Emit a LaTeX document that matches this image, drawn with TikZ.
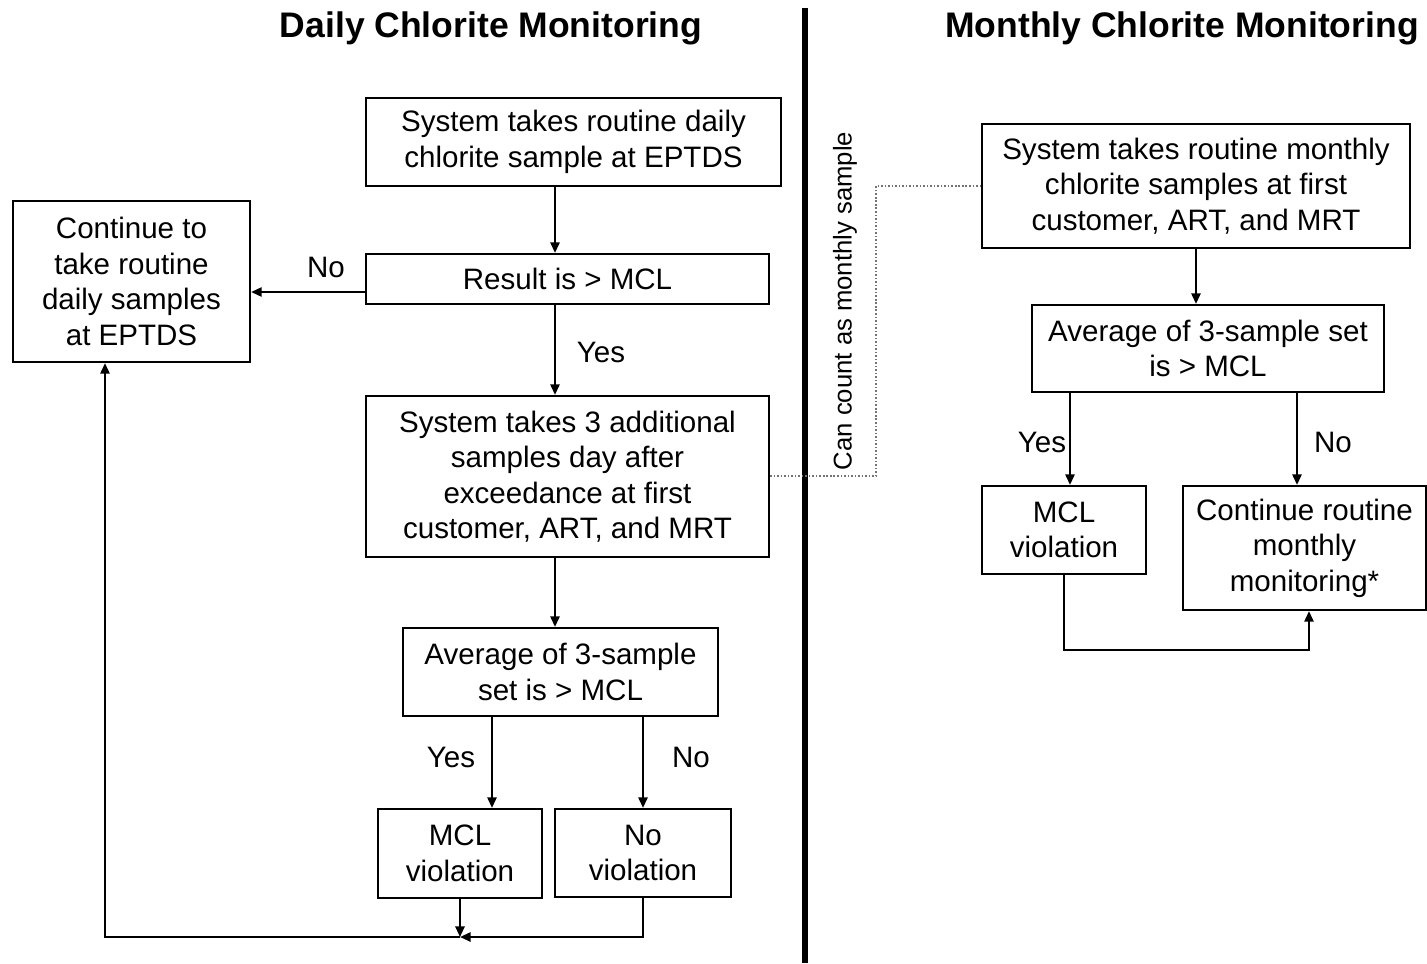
\documentclass[tikz,border=0pt]{standalone}
\usepackage{fontspec}
\setmainfont{Liberation Sans}
\usetikzlibrary{arrows.meta}
\begin{document}
\begin{tikzpicture}[x=0.01cm,y=-0.01cm,
 box/.style={draw, line width=0.6pt, align=center, inner sep=0pt, font=\fontsize{8.4}{10.1}\selectfont},
 lbl/.style={font=\fontsize{8.4}{10.1}\selectfont, inner sep=0pt},
 arr/.style={line width=0.6pt, -{Triangle[length=3pt,width=2.6pt]}},
 ln/.style={line width=0.6pt},
 dotline/.style={black!55, dash pattern=on 0.45pt off 0.55pt, line width=0.45pt},
 ttl/.style={font=\bfseries\fontsize{10.1}{12}\selectfont, inner sep=0pt}]
\useasboundingbox (0,0) rectangle (1427,963);
% titles
\node[ttl] (t1) at (491,28) {Daily Chlorite Monitoring};
\node[ttl] (t2) at (1182,28) {Monthly Chlorite Monitoring};
% divider
\coordinate (divtop) at (805,8);
\coordinate (divbot) at (805,963);
\draw[line width=1.7pt] (divtop) -- (divbot);
% left boxes
\node[box, minimum width=4.15cm, minimum height=0.88cm] (d1) at (573.5,142) {System takes routine daily\\chlorite sample at EPTDS};
\node[box, minimum width=4.03cm, minimum height=0.50cm] (res) at (567.5,279) {Result is > MCL};
\node[box, minimum width=2.37cm, minimum height=1.61cm] (cont) at (131.5,281.5) {Continue to\\take routine\\daily samples\\at EPTDS};
\node[box, minimum width=4.03cm, minimum height=1.61cm] (three) at (567.5,476.5) {System takes 3 additional\\samples day after\\exceedance at first\\customer, ART, and MRT};
\node[box, minimum width=3.15cm, minimum height=0.88cm] (avg) at (560.5,672) {Average of 3-sample\\set is > MCL};
\node[box, minimum width=1.64cm, minimum height=0.89cm] (mclv) at (460,853.5) {MCL\\violation};
\node[box, minimum width=1.76cm, minimum height=0.88cm] (nov) at (643,853) {No\\violation};
% right boxes
\node[box, minimum width=4.28cm, minimum height=1.24cm] (m1) at (1196,186) {System takes routine monthly\\chlorite samples at first\\customer, ART, and MRT};
\node[box, minimum width=3.52cm, minimum height=0.87cm] (mavg) at (1208,348.5) {Average of 3-sample set\\is > MCL};
\node[box, minimum width=1.64cm, minimum height=0.88cm] (mmclv) at (1064,530) {MCL\\violation};
\node[box, minimum width=2.43cm, minimum height=1.24cm] (mcont) at (1304.5,548) {Continue routine\\monthly\\monitoring*};
% helper coordinates
\coordinate (x555) at (555,0);
\coordinate (x492) at (492,0);
\coordinate (x643) at (643,0);
\coordinate (x460) at (460,0);
\coordinate (x105) at (105,0);
\coordinate (y292) at (0,292);
\coordinate (junc) at (460,937);
\coordinate (x1070) at (1070,0);
\coordinate (x1297) at (1297,0);
\coordinate (x1309) at (1309,0);
\coordinate (x1064) at (1064,0);
\coordinate (mjunc) at (1064,650);
\coordinate (y476) at (0,476);
\coordinate (y186) at (0,186);
\coordinate (dA) at (876,476);
\coordinate (dB) at (876,186);
% left connectors
\draw[arr] (d1.south -| x555) -- (res.north -| x555);
\draw[arr] (res.west |- y292) -- (cont.east |- y292);
\node[lbl] (lno1) at (326,267) {No};
\draw[arr] (res.south -| x555) -- (three.north -| x555);
\node[lbl] (lyes1) at (601,352) {Yes};
\draw[arr] (three.south -| x555) -- (avg.north -| x555);
\draw[arr] (avg.south -| x492) -- (mclv.north -| x492);
\node[lbl] (lyes2) at (451,757) {Yes};
\draw[arr] (avg.south -| x643) -- (nov.north -| x643);
\node[lbl] (lno2) at (691,757) {No};
\draw[arr] (mclv.south -| x460) -- (junc);
\draw[arr] (nov.south -| x643) |- (junc);
\draw[arr] (junc) -| (cont.south -| x105);
% right connectors
\draw[arr] (m1.south) -- (mavg.north -| m1.south);
\draw[arr] (mavg.south -| x1070) -- (mmclv.north -| x1070);
\node[lbl] (lyes3) at (1042,442) {Yes};
\draw[arr] (mavg.south -| x1297) -- (mcont.north -| x1297);
\node[lbl] (lno3) at (1333,442) {No};
\draw[arr] (mmclv.south -| x1064) -- (mjunc) -| (mcont.south -| x1309);
% dotted link
\draw[dotline] (three.east |- y476) -- (dA) -- (dB) -- (m1.west |- y186);
\node[rotate=90, font=\fontsize{7.3}{9}\selectfont, inner sep=0pt] (cc) at (845,301) {Can count as monthly sample};
\end{tikzpicture}
\end{document}
